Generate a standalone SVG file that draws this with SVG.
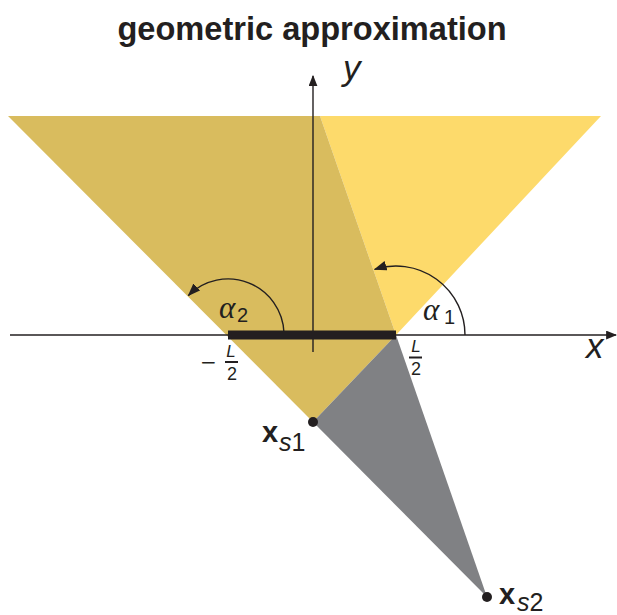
<svg xmlns="http://www.w3.org/2000/svg" width="617" height="615" viewBox="0 0 617 615">
<style>
.sans{font-family:"Liberation Sans",Arial,sans-serif;fill:#231F20}
.math{font-family:"Liberation Serif","Times New Roman",serif;font-style:italic;fill:#231F20}
.ax{stroke:#231F20;stroke-width:1.4;fill:none}
.arc{stroke:#231F20;stroke-width:1.4;fill:none}
</style>
<defs>
<marker id="ah" viewBox="0 0 10 8" refX="9" refY="4" markerWidth="11" markerHeight="9" markerUnits="userSpaceOnUse" orient="auto">
<path d="M0,0 L10,4 L0,8 Z" fill="#231F20"/>
</marker>
<marker id="aa" viewBox="0 0 12 9" refX="11" refY="4.5" markerWidth="13" markerHeight="10" markerUnits="userSpaceOnUse" orient="auto">
<path d="M0,0 L12,4.5 L0,9 Z" fill="#231F20"/>
</marker>
</defs>
<rect width="617" height="615" fill="#fff"/>
<text class="sans" x="312" y="40" font-size="32.6" font-weight="bold" text-anchor="middle">geometric approximation</text>
<g id="regions">
<polygon id="light" points="320,116 601,116 396,335" fill="#FDDA6B"/>
<polygon id="dark" points="8,116 320,116 396,335 313,422" fill="#D9BC5E"/>
<polygon id="gray" points="313,422 396,335 487,597" fill="#808184"/>
</g>
<g id="connectors">
<line class="ax" x1="10" y1="335" x2="616" y2="335" marker-end="url(#ah)"/>
<line class="ax" x1="313" y1="352" x2="313" y2="76" marker-end="url(#ah)"/>
<path class="arc" d="M465,335 A69,69 0 0 0 374.7,269.4" marker-end="url(#aa)"/>
<path class="arc" d="M284,333 A56,56 0 0 0 188.4,295.4" marker-end="url(#aa)"/>
</g>
<g id="aperture">
<line x1="228" y1="335" x2="396" y2="335" stroke="#231F20" stroke-width="9"/>
</g>
<g id="xs1">
<circle cx="313" cy="422" r="5" fill="#231F20"/>
<text class="sans" x="262" y="442" font-size="29" font-weight="bold">x</text>
<text class="sans" x="279" y="451" font-size="25"><tspan font-style="italic">s</tspan>1</text>
</g>
<g id="xs2">
<circle cx="487" cy="597" r="5" fill="#231F20"/>
<text class="sans" x="499" y="604" font-size="29" font-weight="bold">x</text>
<text class="sans" x="517" y="611" font-size="25"><tspan font-style="italic">s</tspan>2</text>
</g>
<g id="labels">
<text class="sans" x="343" y="80" font-size="35" font-style="italic">y</text>
<text class="sans" x="586" y="358" font-size="35" font-style="italic">x</text>
<text class="math" x="423" y="320" font-size="31">α</text>
<text class="sans" x="444" y="324" font-size="20">1</text>
<text class="math" x="219" y="318" font-size="31">α</text>
<text class="sans" x="237" y="322" font-size="20">2</text>
<text x="200" y="369" font-size="20" font-family="'DejaVu Sans',sans-serif" fill="#231F20">−</text>
<text class="sans" x="231" y="357" font-size="17" font-style="italic" text-anchor="middle">L</text>
<line x1="225" y1="362" x2="238" y2="362" stroke="#231F20" stroke-width="2"/>
<text class="sans" x="232" y="380" font-size="18" text-anchor="middle">2</text>
<text class="sans" x="416" y="352" font-size="17" font-style="italic" text-anchor="middle">L</text>
<line x1="409" y1="357.5" x2="422" y2="357.5" stroke="#231F20" stroke-width="2"/>
<text class="sans" x="416" y="375" font-size="18" text-anchor="middle">2</text>
</g>
</svg>
